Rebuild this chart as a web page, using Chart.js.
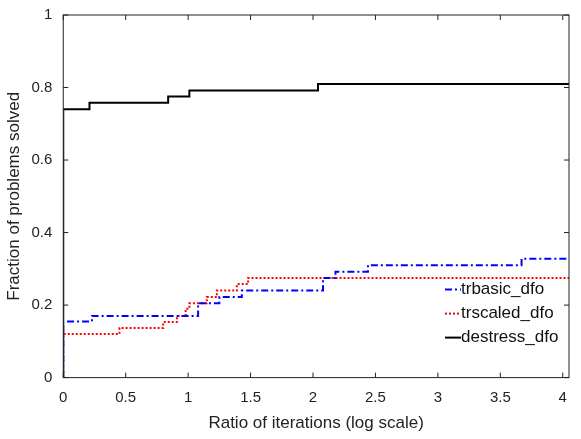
<!DOCTYPE html>
<html>
<head>
<meta charset="UTF-8" />
<script src="https://cdn.jsdelivr.net/npm/chart.js"></script>
<style>
  body { margin: 0; background: #fff; }
  #wrap { width: 581px; height: 439px; }
</style>
</head>
<body>
<div id="wrap"><canvas id="perfChart"></canvas></div>
<script>
  const names = ["trbasic_dfo", "trscaled_dfo", "destress_dfo"];
  const basicX = [0, 0, 0.23, 1.08, 1.25, 1.43, 2.08, 2.18, 2.44, 3.67, 4.05];
  const basicY = [0, 0.155, 0.17, 0.205, 0.222, 0.24, 0.275, 0.292, 0.31, 0.328, 0.328];
  const scaledX = [0, 0, 0.45, 0.8, 0.91, 0.98, 1.01, 1.15, 1.23, 1.39, 1.48, 4.05];
  const scaledY = [0, 0.12, 0.137, 0.153, 0.17, 0.19, 0.205, 0.222, 0.24, 0.258, 0.275, 0.275];
  const destressX = [0, 0, 0.21, 0.84, 1.01, 2.04, 4.05];
  const destressY = [0, 0.74, 0.758, 0.775, 0.792, 0.81, 0.81];
  const xTicks = [0, 0.5, 1, 1.5, 2, 2.5, 3, 3.5, 4];
  const yTicks = [0, 0.2, 0.4, 0.6, 0.8, 1];

  const pts = (xs, ys) => xs.map((x, i) => ({ x: x, y: ys[i] }));
  const colors = ["#0000ff", "#ff0000", "#000000"];
  const dashes = [[7, 3, 2, 3], [2, 2], []];
  const series = [pts(basicX, basicY), pts(scaledX, scaledY), pts(destressX, destressY)];
  const fam = "'Liberation Sans', Arial, sans-serif";

  const frame = {
    id: "frame",
    afterDraw(chart) {
      const { ctx, chartArea: a, scales } = chart;
      ctx.save();
      ctx.strokeStyle = "#222";
      ctx.lineWidth = 1;
      ctx.strokeRect(a.left, a.top, a.right - a.left, a.bottom - a.top);
      // inner ticks on all sides
      ctx.beginPath();
      xTicks.forEach(t => {
        const x = scales.x.getPixelForValue(t);
        ctx.moveTo(x, a.bottom); ctx.lineTo(x, a.bottom - 5);
        ctx.moveTo(x, a.top); ctx.lineTo(x, a.top + 5);
      });
      yTicks.forEach(t => {
        const y = scales.y.getPixelForValue(t);
        ctx.moveTo(a.left, y); ctx.lineTo(a.left + 5, y);
        ctx.moveTo(a.right, y); ctx.lineTo(a.right - 5, y);
      });
      ctx.stroke();
      // legend
      ctx.font = "17px " + fam;
      ctx.textBaseline = "middle";
      names.forEach((n, i) => {
        const y = a.bottom - 88 + i * 24;
        const x = a.right - 124;
        ctx.strokeStyle = colors[i];
        ctx.lineWidth = 2;
        ctx.setLineDash(dashes[i]);
        ctx.beginPath(); ctx.moveTo(x, y); ctx.lineTo(x + 16, y); ctx.stroke();
        ctx.setLineDash([]);
        ctx.fillStyle = "#111";
        ctx.fillText(n, x + 16, y);
      });
      ctx.restore();
    }
  };

  new Chart(document.getElementById("perfChart"), {
    type: "line",
    data: {
      datasets: series.map((d, i) => ({
        label: names[i],
        data: d,
        borderColor: colors[i],
        borderDash: dashes[i],
        borderWidth: 2,
        stepped: "before",
        pointRadius: 0,
        fill: false
      }))
    },
    options: {
      responsive: true,
      maintainAspectRatio: false,
      animation: false,
      layout: { padding: { top: 15, right: 12, left: 0, bottom: 1 } },
      plugins: { legend: { display: false }, tooltip: { enabled: false } },
      scales: {
        x: {
          type: "linear", min: 0, max: 4.05,
          grid: { display: false },
          border: { display: false },
          afterBuildTicks: s => { s.ticks = xTicks.map(v => ({ value: v })); },
          ticks: { color: "#222", font: { size: 15, family: fam }, maxRotation: 0, callback: v => String(v) },
          title: { display: true, text: "Ratio of iterations (log scale)", color: "#222", font: { size: 17, family: fam } }
        },
        y: {
          min: 0, max: 1,
          grid: { display: false },
          border: { display: false },
          afterBuildTicks: s => { s.ticks = yTicks.map(v => ({ value: v })); },
          ticks: { color: "#222", font: { size: 15, family: fam }, callback: v => String(v) },
          title: { display: true, text: "Fraction of problems solved", color: "#222", font: { size: 17, family: fam } }
        }
      }
    },
    plugins: [frame]
  });
</script>
</body>
</html>
